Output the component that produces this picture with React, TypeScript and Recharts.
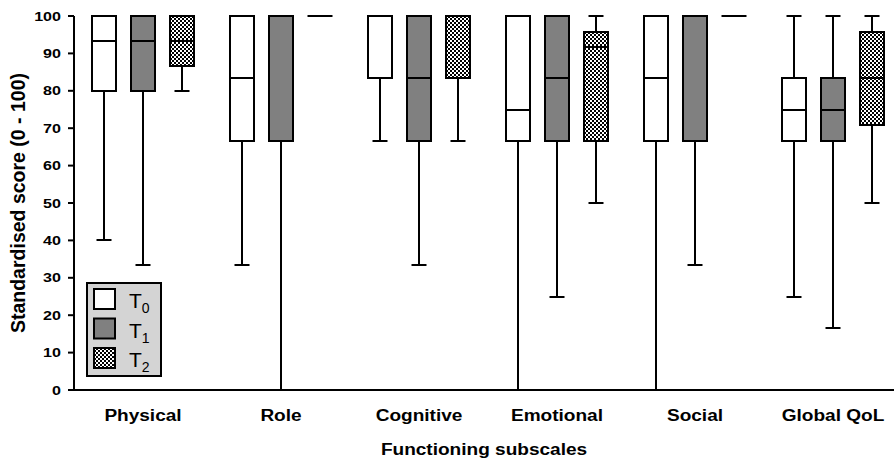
import React from 'react';
import { ComposedChart, Bar, XAxis, YAxis, Legend, Label } from 'recharts';

const categories = ['Physical', 'Role', 'Cognitive', 'Emotional', 'Social', 'Global QoL'];
const seriesNames = ['T0', 'T1', 'T2'];

// five-number summary per subscale: [min, q1, median, q3, max]
const t0Stats = [
  [40, 80, 93.3, 100, 100],
  [33.3, 66.7, 83.3, 100, 100],
  [66.7, 83.3, 100, 100, 100],
  [0, 66.7, 75, 100, 100],
  [0, 66.7, 83.3, 100, 100],
  [25, 66.7, 75, 83.3, 100],
];
const t1Stats = [
  [33.3, 80, 93.3, 100, 100],
  [0, 66.7, 100, 100, 100],
  [33.3, 66.7, 83.3, 100, 100],
  [25, 66.7, 83.3, 100, 100],
  [33.3, 66.7, 100, 100, 100],
  [16.7, 66.7, 75, 83.3, 100],
];
const t2Stats = [
  [80, 86.7, 93.3, 100, 100],
  [100, 100, 100, 100, 100],
  [66.7, 83.3, 100, 100, 100],
  [50, 66.7, 91.7, 95.8, 100],
  [100, 100, 100, 100, 100],
  [50, 70.8, 83.3, 95.8, 100],
];
const yTicks = [0, 10, 20, 30, 40, 50, 60, 70, 80, 90, 100];

const data = categories.map((name, i) => ({
  name,
  T0: t0Stats[i],
  T1: t1Stats[i],
  T2: t2Stats[i],
}));

const FONT = '"Liberation Sans", Arial, Helvetica, sans-serif';
const fills: Record<string, string> = { T0: '#ffffff', T1: '#808080', T2: 'url(#checker)' };
const CAP = 15;

// draws a whole box plot inside the [min, max] range bar that recharts lays out
const makeBoxShape = (key: string) => (props: any) => {
  const { x: rawX, y, width: rawW, height, payload, fill } = props;
  const [min, q1, med, q3, max] = payload[key];
  const span = max - min;
  // snap to whole pixels so 2px strokes stay crisp
  const toY = (v: number) => Math.round(span === 0 ? y : y + (height * (max - v)) / span);
  const x = Math.round(rawX);
  const width = Math.round(rawW);
  const cx = Math.round(x + width / 2);
  const line = { stroke: '#000', strokeWidth: 2 };
  return (
    <g>
      {min < q1 && <line x1={cx} x2={cx} y1={toY(min)} y2={toY(q1)} {...line} />}
      {min < q1 && <line x1={cx - CAP / 2} x2={cx + CAP / 2} y1={toY(min)} y2={toY(min)} {...line} />}
      {max > q3 && <line x1={cx} x2={cx} y1={toY(max)} y2={toY(q3)} {...line} />}
      {max > q3 && <line x1={cx - CAP / 2} x2={cx + CAP / 2} y1={toY(max)} y2={toY(max)} {...line} />}
      {q3 > q1 ? (
        <rect x={x} y={toY(q3)} width={width} height={toY(q1) - toY(q3)} fill={fill} {...line} />
      ) : (
        <line x1={x - 0.5} x2={x + width + 0.5} y1={toY(q1)} y2={toY(q1)} {...line} />
      )}
      {med > q1 && med < q3 && <line x1={x} x2={x + width} y1={toY(med)} y2={toY(med)} {...line} />}
    </g>
  );
};

const YTick = ({ x, y, payload }: any) => (
  <g transform={`translate(${x},${y}) scale(1.24,1)`}>
    <text textAnchor="end" dy="0.36em" fontSize={13} fontWeight="bold" fontFamily={FONT} fill="#000">
      {payload.value}
    </text>
  </g>
);

const CategoryTick = ({ x, y, payload }: any) => (
  <g transform={`translate(${x},${y + 28.5}) scale(1.19,1)`}>
    <text textAnchor="middle" fontSize={16} fontWeight="bold" fontFamily={FONT} fill="#000">
      {payload.value}
    </text>
  </g>
);

const XTitle = ({ viewBox }: any) => (
  <g transform={`translate(${viewBox.x + viewBox.width / 2 - 4},${viewBox.y + 64.5}) scale(1.19,1)`}>
    <text textAnchor="middle" fontSize={16} fontWeight="bold" fontFamily={FONT} fill="#000">
      Functioning subscales
    </text>
  </g>
);

const YTitle = ({ viewBox }: any) => (
  <text
    transform={`translate(25,${viewBox.y + viewBox.height / 2}) rotate(-90)`}
    textAnchor="middle"
    fontSize={19.5}
    fontWeight="bold"
    fontFamily={FONT}
    fill="#000"
  >
    Standardised score (0 - 100)
  </text>
);

const LegendBox = ({ payload }: any) => (
  <svg width={76} height={95} style={{ display: 'block' }}>
    <rect x={1} y={1} width={74} height={93} fill="#d4d4d4" stroke="#000" strokeWidth={2} />
    {(payload || []).map((entry: any, i: number) => {
      const name = String(entry.value);
      return (
        <g key={name}>
          <rect x={8} y={7 + i * 29.5} width={21} height={20} fill={entry.color} stroke="#000" strokeWidth={2} />
          <text x={43} y={26 + i * 29.5} fontSize={21} fontFamily={FONT} fill="#000">
            {name.charAt(0)}
            <tspan fontSize={14} dy={5}>{name.slice(1)}</tspan>
          </text>
        </g>
      );
    })}
  </svg>
);

export default function App() {
  return (
    <div style={{ position: 'absolute', left: 0, top: 0, width: 894, height: 466, overflow: 'hidden', background: '#fff' }}>
      <ComposedChart
        width={902}
        height={466}
        data={data}
        margin={{ top: 16, right: 0, left: 0, bottom: 0 }}
        barSize={24}
        barGap={15}
      >
        <defs>
          <pattern id="checker" width={4} height={4} patternUnits="userSpaceOnUse">
            <rect width={4} height={4} fill="#fff" />
            <rect width={2} height={2} fill="#000" />
            <rect x={2} y={2} width={2} height={2} fill="#000" />
          </pattern>
        </defs>
        <XAxis
          dataKey="name"
          type="category"
          height={76}
          interval={0}
          tickLine={false}
          tickSize={0}
          axisLine={{ stroke: '#000', strokeWidth: 2 }}
          tick={<CategoryTick />}
        >
          <Label content={<XTitle />} />
        </XAxis>
        <YAxis
          type="number"
          domain={[0, 100]}
          ticks={yTicks}
          interval={0}
          width={74}
          tickSize={6}
          tickMargin={7}
          axisLine={{ stroke: '#000', strokeWidth: 2 }}
          tickLine={{ stroke: '#000', strokeWidth: 2 }}
          tick={<YTick />}
        >
          <Label content={<YTitle />} />
        </YAxis>
        <Legend
          layout="horizontal"
          align="center"
          verticalAlign="middle"
          content={<LegendBox />}
          wrapperStyle={{ left: 86, top: 282, width: 76, height: 95 }}
        />
        {seriesNames.map((key) => (
          <Bar
            key={key}
            name={key}
            dataKey={(row: any) => [row[key][0], row[key][4]]}
            fill={fills[key]}
            shape={makeBoxShape(key)}
            isAnimationActive={false}
          />
        ))}
      </ComposedChart>
    </div>
  );
}
